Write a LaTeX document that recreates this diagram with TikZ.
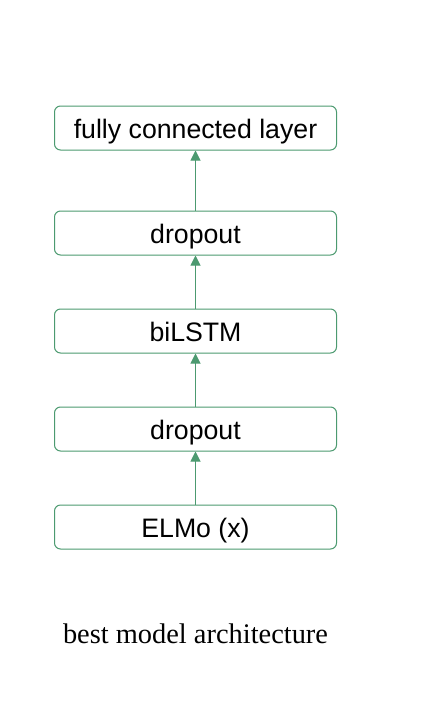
\documentclass[tikz,border=0pt]{standalone}
\usepackage{fontspec}
\setmainfont{Liberation Sans}
\newfontfamily\capfont{Liberation Serif}
\usetikzlibrary{arrows.meta}
\definecolor{boxgreen}{RGB}{76,154,112}
\begin{document}
\begin{tikzpicture}[x=1pt,y=-1pt,
  layerbox/.style={draw=boxgreen,line width=1pt,rounded corners=6pt,minimum width=282pt,minimum height=44pt,inner sep=0pt,text height=20pt,text depth=0pt,font=\fontsize{26.7}{30}\selectfont,fill=white},
  conn/.style={draw=boxgreen,line width=1pt,-{Triangle[width=10pt,length=10pt]}}]
\useasboundingbox (0,0) rectangle (433,705);
\node[layerbox] (fc) at (195.5,128) {fully connected layer};
\node[layerbox] (d2) at (195.5,233) {dropout};
\node[layerbox] (bl) at (195.5,331) {biLSTM};
\node[layerbox] (d1) at (195.5,429) {dropout};
\node[layerbox] (el) at (195.5,527) {ELMo (x)};
\draw[conn] (el) -- (d1);
\draw[conn] (d1) -- (bl);
\draw[conn] (bl) -- (d2);
\draw[conn] (d2) -- (fc);
\node[anchor=base,inner sep=0pt,font=\capfont\fontsize{28.4}{32}\selectfont] (cap) at (195.5,643) {best model architecture};
\end{tikzpicture}
\end{document}
